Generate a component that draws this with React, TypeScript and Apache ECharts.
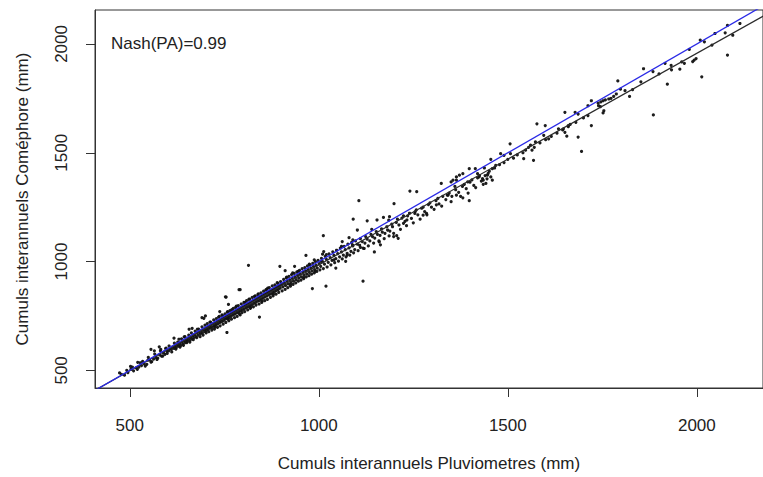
import React, { useEffect, useRef } from "react";
import * as echarts from "echarts";

const xTicks = [500, 1000, 1500, 2000];
const yTicks = [500, 1000, 1500, 2000];
const xTitle = "Cumuls interannuels Pluviometres (mm)";
const yTitle = "Cumuls interannuels Coméphore (mm)";
const nashLabel = "Nash(PA)=0.99";

// regression line (black) and 1:1 line (blue)
const regSlope = 0.9725;
const regIntercept = 12;
const lineExtent = [300, 2400];

// dense band of stations [pluviometres, comephore]
const bandPoints: [number, number][] = [
  [478, 482], [486, 478], [495, 490], [503, 505], [510, 498], [517, 512], [524, 515], [531, 522], [538, 530], [545, 528],
  [552, 548], [558, 540], [563, 552], [569, 560], [574, 556], [579, 571], [584, 566], [589, 580], [593, 574], [598, 588],
  [603, 590], [606, 600], [610, 596], [613, 607], [617, 601], [620, 612], [623, 605], [626, 618], [629, 611], [632, 624],
  [635, 615], [638, 630], [641, 622], [644, 636], [647, 628], [650, 640], [652, 633], [655, 648], [658, 638], [661, 652],
  [664, 644], [667, 660], [669, 650], [672, 664], [675, 655], [678, 672], [681, 662], [684, 676], [687, 668], [690, 683],
  [692, 672], [695, 688], [698, 679],
  [701, 693], [703, 684], [706, 700], [708, 690], [711, 703], [713, 695], [716, 710], [718, 698], [721, 715], [723, 704],
  [726, 718], [728, 709], [731, 725], [733, 714], [736, 728], [738, 720], [741, 734], [743, 724], [746, 740], [748, 729],
  [751, 743], [753, 735], [756, 749], [758, 740], [761, 753], [763, 744], [766, 760], [768, 748], [771, 764], [773, 755],
  [776, 770], [778, 759], [781, 775], [783, 764], [786, 780], [788, 769], [791, 785], [793, 773], [796, 790], [798, 778],
  [712, 722], [735, 745], [758, 768], [782, 795], [745, 752], [770, 779], [725, 700], [760, 735], [790, 760],
  [801, 795], [803, 783], [806, 800], [808, 788], [811, 805], [813, 793], [816, 810], [818, 798], [821, 815], [823, 802],
  [826, 820], [828, 808], [831, 825], [833, 812], [836, 830], [838, 818], [841, 835], [843, 822], [846, 840], [848, 828],
  [851, 845], [853, 832], [856, 850], [858, 838], [861, 855], [863, 842], [866, 860], [868, 848], [871, 865], [873, 852],
  [876, 870], [878, 858], [881, 875], [883, 862], [886, 880], [888, 868], [891, 885], [893, 872], [896, 890], [898, 878],
  [815, 826], [840, 852], [865, 878], [890, 903], [820, 790], [850, 818], [880, 850], [805, 812], [830, 840], [860, 870],
  [902, 895], [905, 884], [909, 902], [912, 890], [916, 910], [919, 897], [923, 916], [926, 904], [930, 923], [933, 910],
  [937, 930], [940, 917], [944, 937], [947, 924], [951, 943], [954, 930], [958, 950], [961, 937], [965, 957], [968, 943],
  [972, 963], [975, 950], [979, 970], [982, 957], [986, 977], [989, 963], [993, 983], [996, 970],
  [915, 928], [945, 955], [975, 988], [925, 895], [960, 925], [990, 955],
  [1001, 990], [1005, 978], [1010, 1000], [1015, 988], [1020, 1010], [1025, 996], [1030, 1018], [1035, 1005], [1040, 1028], [1045, 1013],
  [1050, 1037], [1055, 1022], [1060, 1045], [1065, 1030], [1070, 1055], [1075, 1038], [1080, 1063], [1085, 1047], [1090, 1072], [1095, 1055],
  [1020, 1032], [1060, 1070], [1090, 1100], [1040, 1008], [1075, 1030],
  [1102, 1080], [1108, 1075], [1115, 1092], [1122, 1085], [1128, 1103], [1135, 1095], [1142, 1115], [1148, 1108], [1155, 1125], [1162, 1120],
  [1168, 1135], [1175, 1130], [1182, 1145], [1188, 1140], [1195, 1160],
  [1140, 1148], [1185, 1190], [1120, 1060], [1160, 1090],
  [1205, 1180], [1212, 1168], [1220, 1200], [1228, 1185], [1235, 1210], [1245, 1198], [1255, 1230], [1262, 1215], [1272, 1245], [1280, 1230],
  [1290, 1262], [1298, 1250], [1310, 1280], [1318, 1265], [1328, 1300], [1336, 1285], [1345, 1315], [1352, 1300], [1362, 1330], [1370, 1318],
  [1380, 1345], [1390, 1335], [1400, 1365], [1410, 1350], [1420, 1385], [1430, 1370], [1440, 1395], [1448, 1405],
  [1465, 1430], [1478, 1445], [1490, 1455], [1500, 1470], [1515, 1475], [1525, 1490], [1540, 1500], [1555, 1525], [1570, 1525], [1585, 1545],
  [1600, 1560], [1615, 1575], [1630, 1590], [1645, 1605], [1660, 1620], [1680, 1640], [1700, 1660],
  [1745, 1712], [1830, 1790], [1900, 1862], [1960, 1918], [2040, 1995], [2095, 2040],
];

// wider spread around the band
const spreadPoints: [number, number][] = [
  [492, 500], [507, 515], [520, 505], [528, 535], [541, 520], [549, 560], [556, 538], [566, 575], [572, 550], [581, 590],
  [587, 565], [595, 600], [599, 578],
  [604, 612], [611, 585], [618, 625], [622, 598], [627, 630], [633, 607], [637, 645], [642, 615], [646, 655], [651, 628],
  [656, 662], [659, 630], [663, 672], [668, 641], [673, 680], [677, 650], [682, 690], [686, 655], [691, 700], [694, 662], [699, 708],
  [702, 672], [705, 715], [709, 678], [714, 722], [717, 685], [722, 732], [724, 690], [729, 738], [732, 698], [737, 748],
  [739, 705], [744, 755], [747, 712], [752, 760], [754, 720], [759, 770], [762, 728], [765, 775], [769, 735], [774, 785],
  [777, 742], [780, 790], [784, 748], [787, 798], [792, 755], [795, 805], [797, 765],
  [802, 812], [804, 770], [809, 820], [812, 778], [817, 828], [819, 785], [824, 835], [827, 792], [832, 842], [834, 800],
  [839, 848], [842, 805], [847, 856], [849, 812], [854, 864], [857, 820], [862, 872], [864, 826], [869, 880], [872, 835],
  [877, 888], [879, 842], [884, 893], [887, 850], [892, 900], [894, 858], [899, 908],
  [903, 865], [907, 918], [911, 872], [914, 925], [918, 880], [921, 932], [925, 887], [928, 940], [932, 895], [935, 946],
  [939, 902], [942, 952], [946, 910], [949, 960], [953, 915], [956, 968], [960, 922], [963, 972], [967, 930], [970, 980],
  [974, 935], [977, 985], [981, 942], [984, 992], [988, 948], [991, 1000], [995, 955], [998, 1005],
  [1003, 962], [1007, 1015], [1012, 968], [1017, 1024], [1022, 975], [1027, 1035], [1032, 985], [1037, 1045], [1042, 995], [1047, 1052],
  [1052, 1002], [1057, 1062], [1062, 1012], [1067, 1070], [1072, 1022], [1077, 1080], [1082, 1030], [1087, 1088], [1092, 1040], [1097, 1095],
  [1104, 1050], [1110, 1105], [1117, 1062], [1124, 1115], [1131, 1072], [1138, 1125], [1145, 1085], [1152, 1138], [1159, 1095], [1166, 1150],
  [1173, 1105], [1180, 1160], [1186, 1118], [1193, 1172], [1198, 1130],
  [1208, 1195], [1216, 1148], [1224, 1210], [1232, 1165], [1240, 1222], [1250, 1178], [1258, 1238], [1268, 1195], [1276, 1250], [1286, 1215],
  [1294, 1270],
  [1305, 1240], [1315, 1290], [1325, 1255], [1340, 1305], [1350, 1275], [1360, 1345], [1375, 1300], [1385, 1355], [1395, 1315], [1405, 1375],
  [1415, 1340], [1425, 1395], [1435, 1355], [1445, 1380],
];

// scattered stations away from the band
const outlierPoints: [number, number][] = [
  [2114, 2094], [2081, 2085], [2075, 2051], [2081, 1949], [2013, 1849], [2020, 2010], [2009, 2018], [2048, 2048], [1993, 1926], [1989, 1919],
  [1998, 1933], [1967, 1911], [1955, 1884], [1933, 1881], [1932, 1902], [1916, 1911], [1922, 1815], [1884, 1873], [1859, 1886], [1852, 1826],
  [1885, 1674], [1791, 1830], [1810, 1785], [1822, 1759], [1798, 1792], [1787, 1770], [1780, 1759], [1773, 1750], [1767, 1747], [1758, 1743],
  [1752, 1739], [1746, 1734], [1739, 1728], [1740, 1716], [1721, 1739], [1712, 1716], [1754, 1693], [1752, 1683], [1712, 1671], [1980, 1975],
  [1651, 1686], [1678, 1686], [1686, 1678], [1721, 1625], [1695, 1506], [1686, 1572], [1665, 1630], [1660, 1625], [1651, 1594], [1656, 1576],
  [1647, 1610], [1634, 1610], [1599, 1625], [1595, 1580], [1608, 1564], [1577, 1633], [1573, 1550], [1560, 1535], [1564, 1512], [1547, 1512],
  [1542, 1473], [1568, 1465], [1506, 1541], [1490, 1488], [1481, 1496], [1507, 1496], [1455, 1470], [1468, 1442], [1459, 1427], [1438, 1430],
  [1451, 1415], [1446, 1397], [1398, 1427], [1381, 1404], [1372, 1397], [1420, 1404], [1424, 1389], [1433, 1381], [1455, 1389], [1459, 1374],
  [1442, 1359], [1394, 1366], [1364, 1374], [1350, 1366],
  [1106, 1280], [1241, 1324], [1259, 1321], [1199, 1266], [1091, 1195], [1128, 1187], [1154, 1191], [1171, 1203], [1187, 1206], [1102, 1145],
  [1012, 1119], [1062, 1092], [1080, 1110], [1089, 1077], [1198, 1115], [1206, 1119], [1210, 1107], [1163, 1077], [1147, 1044], [1110, 1065],
  [1010, 1034], [1324, 1359], [1355, 1374], [1364, 1389], [1342, 1305], [1364, 1305], [1381, 1293], [1311, 1261], [1285, 1221], [1276, 1213],
  [1254, 1221], [1233, 1191], [1224, 1176],
  [814, 983], [897, 978], [911, 958], [936, 978], [931, 948], [966, 1028], [988, 1008], [1006, 1001], [1013, 1046], [792, 871],
  [753, 838], [700, 750], [691, 742], [843, 745], [983, 876], [1019, 887], [1045, 970], [1071, 1001],
  [473, 488], [502, 518], [521, 537], [534, 541], [548, 547], [556, 597], [565, 590], [578, 608], [582, 597], [596, 602],
  [617, 648], [630, 643], [644, 654], [657, 689], [665, 693], [679, 689], [696, 739], [738, 770], [755, 837], [789, 871],
  [757, 674], [761, 803],
  [1117, 910], [1398, 1280], [1435, 1374], [1414, 1427],
];

const FONT = "'Liberation Sans', Arial, Helvetica, sans-serif";
const TEXT = "#222";
const AXIS = "#333";

export default function App() {
  const ref = useRef<HTMLDivElement>(null);
  useEffect(() => {
    if (!ref.current) return;
    const chart = echarts.init(ref.current, undefined, { renderer: "svg" });
    const allPoints = [...bandPoints, ...spreadPoints, ...outlierPoints];
    const oneToOne = lineExtent.map((v) => [v, v]);
    const regression = lineExtent.map((v) => [v, regSlope * v + regIntercept]);
    const plain = (v: number) => String(v);
    chart.setOption({
      animation: false,
      backgroundColor: "#fff",
      grid: {
        left: 95,
        top: 10,
        right: -6,
        bottom: 86,
        show: true,
        borderColor: AXIS,
        borderWidth: 1,
        backgroundColor: "transparent",
      },
      xAxis: {
        type: "value",
        min: 408,
        max: 2175,
        name: xTitle,
        nameLocation: "middle",
        nameGap: 67,
        nameTextStyle: { fontSize: 17, color: TEXT, fontFamily: FONT },
        axisLine: { show: true, onZero: false, lineStyle: { color: AXIS, width: 1 } },
        axisTick: { show: true, customValues: xTicks, length: 9, lineStyle: { color: AXIS, width: 1 } },
        axisLabel: { customValues: xTicks, formatter: plain, fontSize: 17, color: TEXT, fontFamily: FONT, margin: 29 },
        splitLine: { show: false },
      },
      yAxis: {
        type: "value",
        min: 419,
        max: 2156,
        name: yTitle,
        nameLocation: "middle",
        nameGap: 64,
        nameRotate: 90,
        nameTextStyle: { fontSize: 17, color: TEXT, fontFamily: FONT },
        axisLine: { show: true, onZero: false, lineStyle: { color: AXIS, width: 1 } },
        axisTick: { show: true, customValues: yTicks, length: 9, lineStyle: { color: AXIS, width: 1 } },
        axisLabel: { customValues: yTicks, formatter: plain, fontSize: 17, color: TEXT, fontFamily: FONT, margin: 25, rotate: 90 },
        splitLine: { show: false },
      },
      graphic: [
        {
          type: "text",
          left: 111,
          top: 35,
          style: { text: nashLabel, fontSize: 17, fill: TEXT, fontFamily: FONT },
        },
      ],
      series: [
        {
          type: "scatter",
          data: allPoints,
          symbol: "circle",
          symbolSize: 3.2,
          itemStyle: { color: "#111", opacity: 0.95 },
          z: 2,
        },
        {
          type: "line",
          data: regression,
          symbol: "none",
          clip: true,
          lineStyle: { color: "#2b2b2b", width: 1.2 },
          z: 3,
        },
        {
          type: "line",
          data: oneToOne,
          symbol: "none",
          clip: true,
          lineStyle: { color: "#2a2ae6", width: 1.3 },
          z: 4,
        },
      ],
    });
    return () => chart.dispose();
  }, []);
  return (
    <div
      ref={ref}
      style={{ position: "fixed", left: 0, top: 0, width: 763, height: 477, background: "#fff" }}
    />
  );
}
